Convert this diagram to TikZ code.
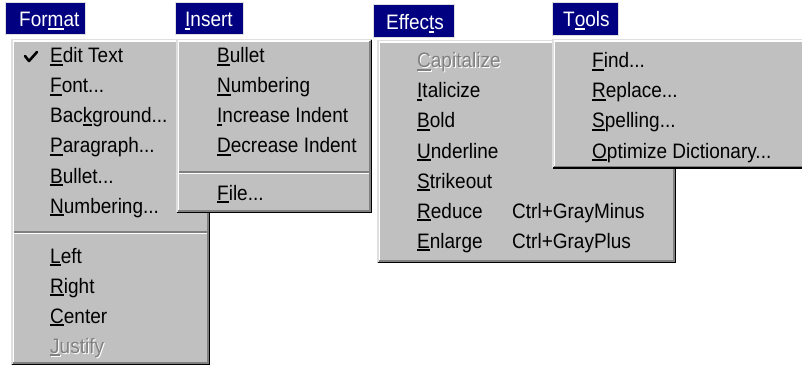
\documentclass[tikz,border=0pt]{standalone}
\usepackage{fontspec}
\usepackage{graphicx}
\setmainfont{Liberation Sans}
\definecolor{menubg}{HTML}{C0C0C0}
\definecolor{menudark}{HTML}{808080}
\definecolor{navy}{HTML}{000080}
\definecolor{hilite}{HTML}{DFDFDF}
\newcommand\ak[1]{\leavevmode\setbox0\hbox{#1}\rlap{\rule[-2.4pt]{\wd0}{1.2pt}}\box0}
\newcommand\tall[1]{\scalebox{1}[1.1]{#1}}
\newcommand\menubox[4]{%
  \fill[menubg] (#1,#2) rectangle (#3,#4);
  \draw[hilite,line width=1.5pt] (#1+0.75,#4-0.75) -- (#1+0.75,#2+0.75) -- (#3-0.75,#2+0.75);
  \draw[white,line width=1.5pt] (#1+2.25,#4-2.25) -- (#1+2.25,#2+2.25) -- (#3-2.25,#2+2.25);
  \draw[menudark,line width=1.5pt] (#1+2.25,#4-2.25) -- (#3-2.25,#4-2.25) -- (#3-2.25,#2+2.25);
  \draw[black,line width=1.5pt] (#1+0.75,#4-0.75) -- (#3-0.75,#4-0.75) -- (#3-0.75,#2+0.75);
}
\newcommand\menusep[3]{%
  \draw[menudark,line width=1.5pt] (#1,#3) -- (#2,#3);
  \draw[white,line width=1.5pt] (#1,#3+1.5) -- (#2,#3+1.5);
}
\newcommand\titlebox[4]{%
  \fill[navy] (#1,#2) rectangle (#3,#4);
  \draw[hilite,line width=1pt] (#1,#2) rectangle (#3,#4);
}
\tikzset{
  item/.style={anchor=base west, inner sep=0pt, font=\fontsize{19}{19}\selectfont, text=black},
  title/.style={item, text=white},
  greyed/.style={item, text=menudark},
  greyshadow/.style={item, text=white},
}
\begin{document}
\begin{tikzpicture}[x=1pt,y=-1pt]
\useasboundingbox (0,0) rectangle (802,366);
\clip (0,0) rectangle (802,366);
\fill[white] (0,0) rectangle (802,366);

% ---------- Format ----------
\titlebox{5}{3}{85}{35}
\node[title] (tformat) at (19,27) {\tall{For\ak{m}at}};
\menubox{11}{39}{210}{365}
\draw[black,line width=2.6pt,line cap=round,line join=round] (25,56) -- (29,61) -- (37,52);
\node[item] (f1) at (50,63) {\tall{\ak{E}dit Text}};
\node[item] (f2) at (50,93) {\tall{\ak{F}ont...}};
\node[item] (f3) at (50,123) {\tall{Bac\ak{k}ground...}};
\node[item] (f4) at (50,153) {\tall{\ak{P}aragraph...}};
\node[item] (f5) at (50,183) {\tall{\ak{B}ullet...}};
\node[item] (f6) at (50,213) {\tall{\ak{N}umbering...}};
\menusep{14}{207}{232}
\node[item] (f7) at (50,263) {\tall{\ak{L}eft}};
\node[item] (f8) at (50,293) {\tall{\ak{R}ight}};
\node[item] (f9) at (50,323) {\tall{\ak{C}enter}};
\node[greyshadow] (f10s) at (51,354) {\tall{\ak{J}ustify}};
\node[greyed] (f10) at (50,353) {\tall{\ak{J}ustify}};

% ---------- Insert ----------
\titlebox{175}{3}{243}{35}
\node[title] (tinsert) at (185,27) {\tall{\ak{I}nsert}};
\menubox{176}{39}{372}{213}
\node[item] (i1) at (217,63) {\tall{\ak{B}ullet}};
\node[item] (i2) at (217,93) {\tall{\ak{N}umbering}};
\node[item] (i3) at (217,123) {\tall{\ak{I}ncrease Indent}};
\node[item] (i4) at (217,153) {\tall{\ak{D}ecrease Indent}};
\menusep{179}{369}{172}
\node[item] (i5) at (217,200) {\tall{\ak{F}ile...}};

% ---------- Effects ----------
\titlebox{373}{5}{454}{38}
\node[title] (teffects) at (386,30) {\tall{Effec\ak{t}s}};
\menubox{377}{40}{676}{263}
\node[greyshadow] (e1s) at (418,69) {\tall{\ak{C}apitalize}};
\node[greyed] (e1) at (417,68) {\tall{\ak{C}apitalize}};
\node[item] (e2) at (417,98) {\tall{\ak{I}talicize}};
\node[item] (e3) at (417,128) {\tall{\ak{B}old}};
\node[item] (e4) at (417,158) {\tall{\ak{U}nderline}};
\node[item] (e5) at (417,188) {\tall{\ak{S}trikeout}};
\node[item] (e6) at (417,218) {\tall{\ak{R}educe}};
\node[item] (e7) at (417,248) {\tall{\ak{E}nlarge}};
\node[item] (e6k) at (512,218) {\tall{Ctrl+GrayMinus}};
\node[item] (e7k) at (512,248) {\tall{Ctrl+GrayPlus}};

% ---------- Tools ----------
\titlebox{552}{3}{618}{36}
\node[title] (ttools) at (563,27) {\tall{T\ak{o}ols}};
\menubox{552}{39}{808}{169}
\node[item] (t1) at (592,68) {\tall{\ak{F}ind...}};
\node[item] (t2) at (592,98) {\tall{\ak{R}eplace...}};
\node[item] (t3) at (592,128) {\tall{\ak{S}pelling...}};
\node[item] (t4) at (592,158) {\tall{\ak{O}ptimize Dictionary...}};
\end{tikzpicture}
\end{document}
